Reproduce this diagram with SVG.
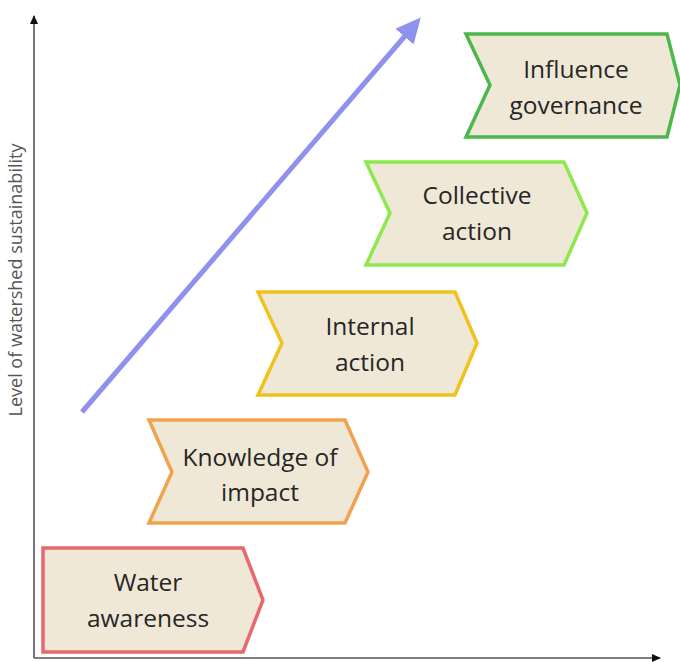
<svg xmlns="http://www.w3.org/2000/svg" width="680" height="662" viewBox="0 0 680 662">
<defs>
<style>
.node{fill:#efe8d7;stroke-width:3.5;stroke-linejoin:miter}
.lbl{font-family:"Open Sans","Liberation Sans",sans-serif;font-size:24.5px;fill:#262626;text-anchor:middle}
.axis{stroke:#555;stroke-width:1.6;fill:none}
.ax-lbl{font-family:"Open Sans","Liberation Sans",sans-serif;font-size:18px;fill:#555;text-anchor:middle}
</style>
<marker id="axh" markerWidth="10" markerHeight="10" refX="8" refY="5" orient="auto" markerUnits="userSpaceOnUse">
<path d="M0,1 L9,5 L0,9 Z" fill="#111"/>
</marker>
<marker id="bh" markerWidth="30" markerHeight="30" refX="10" refY="12" orient="auto" markerUnits="userSpaceOnUse">
<path d="M0,0 L25,12 L0,24 Z" fill="#9090ee"/>
</marker>
</defs>
<rect width="680" height="662" fill="#ffffff"/>
<g id="connectors">
<line class="axis" x1="34" y1="658" x2="34" y2="16" marker-end="url(#axh)"/>
<line class="axis" x1="34" y1="658" x2="660" y2="658" marker-end="url(#axh)"/>
<line x1="82" y1="412" x2="411" y2="29" stroke="#9090ee" stroke-width="5" marker-end="url(#bh)"/>
</g>
<text class="ax-lbl" transform="translate(22,280) rotate(-90)">Level of watershed sustainability</text>
<g id="water-awareness">
<polygon class="node" stroke="#e9676f" points="43,548 243,548 263,600 243,652 43,652"/>
<text class="lbl" x="148" y="591">Water</text>
<text class="lbl" x="148" y="627">awareness</text>
</g>
<g id="knowledge-of-impact">
<polygon class="node" stroke="#f0a24e" points="149,420 345,420 368,472 345,523 149,523 172,472"/>
<text class="lbl" x="260" y="466">Knowledge of</text>
<text class="lbl" x="260" y="501">impact</text>
</g>
<g id="internal-action">
<polygon class="node" stroke="#f0c21e" points="258,292 455,292 477,343 455,395 258,395 282,343"/>
<text class="lbl" x="370" y="335">Internal</text>
<text class="lbl" x="370" y="371">action</text>
</g>
<g id="collective-action">
<polygon class="node" stroke="#8ee84e" points="366,162 564,162 587,213 564,265 366,265 390,213"/>
<text class="lbl" x="477" y="204">Collective</text>
<text class="lbl" x="477" y="240">action</text>
</g>
<g id="influence-governance">
<polygon class="node" stroke="#4cb84c" points="466,34 667,34 680,85 667,137 466,137 490,85"/>
<text class="lbl" x="576" y="78">Influence</text>
<text class="lbl" x="576" y="114">governance</text>
</g>
</svg>
